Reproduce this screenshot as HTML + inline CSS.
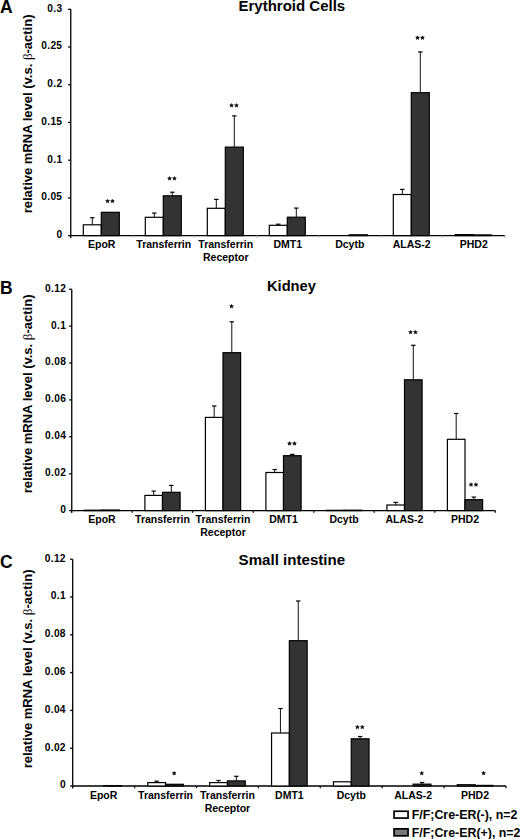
<!DOCTYPE html>
<html><head><meta charset="utf-8"><style>
html,body{margin:0;padding:0;background:#fff;width:520px;height:839px;overflow:hidden}
svg{display:block;font-family:"Liberation Sans", sans-serif;}
</style></head><body>
<svg width="520" height="839" viewBox="0 0 520 839">
<text x="0.00" y="12.60" font-size="17.5" text-anchor="start" font-weight="bold" >A</text>
<text x="291.85" y="11.00" font-size="15.0" text-anchor="middle" font-weight="bold" >Erythroid Cells</text>
<text transform="translate(31.8,113.90) rotate(-90)" x="0" y="0" font-size="13" text-anchor="middle" font-weight="bold">relative mRNA level (v.s. <tspan font-family="Liberation Serif" font-weight="normal">&#946;</tspan>-actin)</text>
<line x1="70.75" y1="9.3" x2="70.75" y2="238.0" stroke="#000" stroke-width="1.3"/>
<line x1="68.15" y1="235.60" x2="70.75" y2="235.60" stroke="#000" stroke-width="1.3"/>
<text x="62.35" y="238.00" font-size="10.2" text-anchor="end" font-weight="bold" letter-spacing="0.3">0</text>
<line x1="68.15" y1="197.88" x2="70.75" y2="197.88" stroke="#000" stroke-width="1.3"/>
<text x="62.35" y="200.28" font-size="10.2" text-anchor="end" font-weight="bold" letter-spacing="0.3">0.05</text>
<line x1="68.15" y1="160.17" x2="70.75" y2="160.17" stroke="#000" stroke-width="1.3"/>
<text x="62.35" y="162.57" font-size="10.2" text-anchor="end" font-weight="bold" letter-spacing="0.3">0.1</text>
<line x1="68.15" y1="122.45" x2="70.75" y2="122.45" stroke="#000" stroke-width="1.3"/>
<text x="62.35" y="124.85" font-size="10.2" text-anchor="end" font-weight="bold" letter-spacing="0.3">0.15</text>
<line x1="68.15" y1="84.73" x2="70.75" y2="84.73" stroke="#000" stroke-width="1.3"/>
<text x="62.35" y="87.13" font-size="10.2" text-anchor="end" font-weight="bold" letter-spacing="0.3">0.2</text>
<line x1="68.15" y1="47.02" x2="70.75" y2="47.02" stroke="#000" stroke-width="1.3"/>
<text x="62.35" y="49.42" font-size="10.2" text-anchor="end" font-weight="bold" letter-spacing="0.3">0.25</text>
<line x1="68.15" y1="9.30" x2="70.75" y2="9.30" stroke="#000" stroke-width="1.3"/>
<text x="62.35" y="11.70" font-size="10.2" text-anchor="end" font-weight="bold" letter-spacing="0.3">0.3</text>
<line x1="70.1" y1="235.6" x2="505.0" y2="235.6" stroke="#000" stroke-width="1.4"/>
<line x1="132.75" y1="235.6" x2="132.75" y2="237.4" stroke="#aaa" stroke-width="1.2"/>
<line x1="194.75" y1="235.6" x2="194.75" y2="237.4" stroke="#aaa" stroke-width="1.2"/>
<line x1="256.75" y1="235.6" x2="256.75" y2="237.4" stroke="#aaa" stroke-width="1.2"/>
<line x1="318.75" y1="235.6" x2="318.75" y2="237.4" stroke="#aaa" stroke-width="1.2"/>
<line x1="380.75" y1="235.6" x2="380.75" y2="237.4" stroke="#aaa" stroke-width="1.2"/>
<line x1="442.75" y1="235.6" x2="442.75" y2="237.4" stroke="#aaa" stroke-width="1.2"/>
<line x1="504.75" y1="235.6" x2="504.75" y2="237.4" stroke="#aaa" stroke-width="1.2"/>
<rect x="83.30" y="224.80" width="18.00" height="10.80" fill="#fff" stroke="#000" stroke-width="1.2"/>
<line x1="92.30" y1="224.80" x2="92.30" y2="217.70" stroke="#111" stroke-width="1.0"/>
<line x1="90.10" y1="217.70" x2="94.50" y2="217.70" stroke="#000" stroke-width="1.2"/>
<rect x="101.30" y="212.30" width="18.00" height="23.30" fill="#333" stroke="#000" stroke-width="1.2"/>
<polygon points="107.55,199.15 108.11,200.38 109.45,200.53 108.45,201.44 108.73,202.77 107.55,202.10 106.37,202.77 106.65,201.44 105.65,200.53 106.99,200.38" fill="#000" stroke="#000" stroke-width="0.5" stroke-linejoin="round"/>
<polygon points="112.45,199.15 113.01,200.38 114.35,200.53 113.35,201.44 113.63,202.77 112.45,202.10 111.27,202.77 111.55,201.44 110.55,200.53 111.89,200.38" fill="#000" stroke="#000" stroke-width="0.5" stroke-linejoin="round"/>
<text x="101.75" y="247.50" font-size="10.5" text-anchor="middle" font-weight="bold" >EpoR</text>
<rect x="145.30" y="217.30" width="18.00" height="18.30" fill="#fff" stroke="#000" stroke-width="1.2"/>
<line x1="154.30" y1="217.30" x2="154.30" y2="213.10" stroke="#111" stroke-width="1.0"/>
<line x1="152.10" y1="213.10" x2="156.50" y2="213.10" stroke="#000" stroke-width="1.2"/>
<rect x="163.30" y="195.80" width="18.00" height="39.80" fill="#333" stroke="#000" stroke-width="1.2"/>
<line x1="172.30" y1="195.80" x2="172.30" y2="192.20" stroke="#111" stroke-width="1.0"/>
<line x1="170.10" y1="192.20" x2="174.50" y2="192.20" stroke="#000" stroke-width="1.2"/>
<polygon points="169.55,176.45 170.11,177.68 171.45,177.83 170.45,178.74 170.73,180.07 169.55,179.40 168.37,180.07 168.65,178.74 167.65,177.83 168.99,177.68" fill="#000" stroke="#000" stroke-width="0.5" stroke-linejoin="round"/>
<polygon points="174.45,176.45 175.01,177.68 176.35,177.83 175.35,178.74 175.63,180.07 174.45,179.40 173.27,180.07 173.55,178.74 172.55,177.83 173.89,177.68" fill="#000" stroke="#000" stroke-width="0.5" stroke-linejoin="round"/>
<text x="163.75" y="247.50" font-size="10.5" text-anchor="middle" font-weight="bold" >Transferrin</text>
<rect x="207.30" y="208.30" width="18.00" height="27.30" fill="#fff" stroke="#000" stroke-width="1.2"/>
<line x1="216.30" y1="208.30" x2="216.30" y2="199.40" stroke="#111" stroke-width="1.0"/>
<line x1="214.10" y1="199.40" x2="218.50" y2="199.40" stroke="#000" stroke-width="1.2"/>
<rect x="225.30" y="147.10" width="18.00" height="88.50" fill="#333" stroke="#000" stroke-width="1.2"/>
<line x1="234.30" y1="147.10" x2="234.30" y2="115.90" stroke="#111" stroke-width="1.0"/>
<line x1="232.10" y1="115.90" x2="236.50" y2="115.90" stroke="#000" stroke-width="1.2"/>
<polygon points="231.55,103.45 232.11,104.68 233.45,104.83 232.45,105.74 232.73,107.07 231.55,106.40 230.37,107.07 230.65,105.74 229.65,104.83 230.99,104.68" fill="#000" stroke="#000" stroke-width="0.5" stroke-linejoin="round"/>
<polygon points="236.45,103.45 237.01,104.68 238.35,104.83 237.35,105.74 237.63,107.07 236.45,106.40 235.27,107.07 235.55,105.74 234.55,104.83 235.89,104.68" fill="#000" stroke="#000" stroke-width="0.5" stroke-linejoin="round"/>
<text x="225.75" y="247.50" font-size="10.5" text-anchor="middle" font-weight="bold" >Transferrin</text>
<text x="225.75" y="261.00" font-size="10.5" text-anchor="middle" font-weight="bold" >Receptor</text>
<rect x="269.30" y="225.30" width="18.00" height="10.30" fill="#fff" stroke="#000" stroke-width="1.2"/>
<line x1="278.30" y1="225.30" x2="278.30" y2="224.20" stroke="#111" stroke-width="1.0"/>
<line x1="276.10" y1="224.20" x2="280.50" y2="224.20" stroke="#000" stroke-width="1.2"/>
<rect x="287.30" y="217.20" width="18.00" height="18.40" fill="#333" stroke="#000" stroke-width="1.2"/>
<line x1="296.30" y1="217.20" x2="296.30" y2="208.10" stroke="#111" stroke-width="1.0"/>
<line x1="294.10" y1="208.10" x2="298.50" y2="208.10" stroke="#000" stroke-width="1.2"/>
<text x="287.75" y="247.50" font-size="10.5" text-anchor="middle" font-weight="bold" >DMT1</text>
<rect x="349.30" y="234.80" width="18.00" height="0.80" fill="#333" stroke="#000" stroke-width="1.2"/>
<text x="349.75" y="247.50" font-size="10.5" text-anchor="middle" font-weight="bold" >Dcytb</text>
<rect x="393.30" y="194.50" width="18.00" height="41.10" fill="#fff" stroke="#000" stroke-width="1.2"/>
<line x1="402.30" y1="194.50" x2="402.30" y2="189.40" stroke="#111" stroke-width="1.0"/>
<line x1="400.10" y1="189.40" x2="404.50" y2="189.40" stroke="#000" stroke-width="1.2"/>
<rect x="411.30" y="92.70" width="18.00" height="142.90" fill="#333" stroke="#000" stroke-width="1.2"/>
<line x1="420.30" y1="92.70" x2="420.30" y2="51.90" stroke="#111" stroke-width="1.0"/>
<line x1="418.10" y1="51.90" x2="422.50" y2="51.90" stroke="#000" stroke-width="1.2"/>
<polygon points="417.55,35.85 418.11,37.08 419.45,37.23 418.45,38.14 418.73,39.47 417.55,38.80 416.37,39.47 416.65,38.14 415.65,37.23 416.99,37.08" fill="#000" stroke="#000" stroke-width="0.5" stroke-linejoin="round"/>
<polygon points="422.45,35.85 423.01,37.08 424.35,37.23 423.35,38.14 423.63,39.47 422.45,38.80 421.27,39.47 421.55,38.14 420.55,37.23 421.89,37.08" fill="#000" stroke="#000" stroke-width="0.5" stroke-linejoin="round"/>
<text x="411.75" y="247.50" font-size="10.5" text-anchor="middle" font-weight="bold" >ALAS-2</text>
<rect x="455.30" y="234.60" width="18.00" height="1.00" fill="#fff" stroke="#000" stroke-width="1.2"/>
<rect x="473.30" y="234.90" width="18.00" height="0.70" fill="#333" stroke="#000" stroke-width="1.2"/>
<text x="473.75" y="247.50" font-size="10.5" text-anchor="middle" font-weight="bold" >PHD2</text>
<text x="0.00" y="293.60" font-size="17.5" text-anchor="start" font-weight="bold" >B</text>
<text x="291.45" y="291.20" font-size="14.7" text-anchor="middle" font-weight="bold" >Kidney</text>
<text transform="translate(31.8,393.95) rotate(-90)" x="0" y="0" font-size="13" text-anchor="middle" font-weight="bold">relative mRNA level (v.s. <tspan font-family="Liberation Serif" font-weight="normal">&#946;</tspan>-actin)</text>
<line x1="71.75" y1="289.2" x2="71.75" y2="513.0" stroke="#000" stroke-width="1.3"/>
<line x1="69.15" y1="510.60" x2="71.75" y2="510.60" stroke="#000" stroke-width="1.3"/>
<text x="66.15" y="513.00" font-size="10.2" text-anchor="end" font-weight="bold" letter-spacing="0.3">0</text>
<line x1="69.15" y1="473.70" x2="71.75" y2="473.70" stroke="#000" stroke-width="1.3"/>
<text x="66.15" y="476.10" font-size="10.2" text-anchor="end" font-weight="bold" letter-spacing="0.3">0.02</text>
<line x1="69.15" y1="436.80" x2="71.75" y2="436.80" stroke="#000" stroke-width="1.3"/>
<text x="66.15" y="439.20" font-size="10.2" text-anchor="end" font-weight="bold" letter-spacing="0.3">0.04</text>
<line x1="69.15" y1="399.90" x2="71.75" y2="399.90" stroke="#000" stroke-width="1.3"/>
<text x="66.15" y="402.30" font-size="10.2" text-anchor="end" font-weight="bold" letter-spacing="0.3">0.06</text>
<line x1="69.15" y1="363.00" x2="71.75" y2="363.00" stroke="#000" stroke-width="1.3"/>
<text x="66.15" y="365.40" font-size="10.2" text-anchor="end" font-weight="bold" letter-spacing="0.3">0.08</text>
<line x1="69.15" y1="326.10" x2="71.75" y2="326.10" stroke="#000" stroke-width="1.3"/>
<text x="66.15" y="328.50" font-size="10.2" text-anchor="end" font-weight="bold" letter-spacing="0.3">0.1</text>
<line x1="69.15" y1="289.20" x2="71.75" y2="289.20" stroke="#000" stroke-width="1.3"/>
<text x="66.15" y="291.60" font-size="10.2" text-anchor="end" font-weight="bold" letter-spacing="0.3">0.12</text>
<line x1="71.1" y1="510.6" x2="495.4" y2="510.6" stroke="#000" stroke-width="1.4"/>
<line x1="132.25" y1="510.6" x2="132.25" y2="512.8000000000001" stroke="#000" stroke-width="1.2"/>
<line x1="192.75" y1="510.6" x2="192.75" y2="512.8000000000001" stroke="#000" stroke-width="1.2"/>
<line x1="253.25" y1="510.6" x2="253.25" y2="512.8000000000001" stroke="#000" stroke-width="1.2"/>
<line x1="313.75" y1="510.6" x2="313.75" y2="512.8000000000001" stroke="#000" stroke-width="1.2"/>
<line x1="374.25" y1="510.6" x2="374.25" y2="512.8000000000001" stroke="#000" stroke-width="1.2"/>
<line x1="434.75" y1="510.6" x2="434.75" y2="512.8000000000001" stroke="#000" stroke-width="1.2"/>
<line x1="495.25" y1="510.6" x2="495.25" y2="512.8000000000001" stroke="#000" stroke-width="1.2"/>
<rect x="84.40" y="510.20" width="17.60" height="0.40" fill="#fff" stroke="#000" stroke-width="1.2"/>
<rect x="102.00" y="510.00" width="17.60" height="0.60" fill="#333" stroke="#000" stroke-width="1.2"/>
<text x="102.00" y="522.50" font-size="10.5" text-anchor="middle" font-weight="bold" >EpoR</text>
<rect x="144.90" y="495.40" width="17.60" height="15.20" fill="#fff" stroke="#000" stroke-width="1.2"/>
<line x1="153.70" y1="495.40" x2="153.70" y2="491.10" stroke="#111" stroke-width="1.0"/>
<line x1="151.50" y1="491.10" x2="155.90" y2="491.10" stroke="#000" stroke-width="1.2"/>
<rect x="162.50" y="492.30" width="17.60" height="18.30" fill="#333" stroke="#000" stroke-width="1.2"/>
<line x1="171.30" y1="492.30" x2="171.30" y2="485.40" stroke="#111" stroke-width="1.0"/>
<line x1="169.10" y1="485.40" x2="173.50" y2="485.40" stroke="#000" stroke-width="1.2"/>
<text x="162.50" y="522.50" font-size="10.5" text-anchor="middle" font-weight="bold" >Transferrin</text>
<rect x="205.40" y="417.40" width="17.60" height="93.20" fill="#fff" stroke="#000" stroke-width="1.2"/>
<line x1="214.20" y1="417.40" x2="214.20" y2="406.00" stroke="#111" stroke-width="1.0"/>
<line x1="212.00" y1="406.00" x2="216.40" y2="406.00" stroke="#000" stroke-width="1.2"/>
<rect x="223.00" y="352.70" width="17.60" height="157.90" fill="#333" stroke="#000" stroke-width="1.2"/>
<line x1="231.80" y1="352.70" x2="231.80" y2="321.80" stroke="#111" stroke-width="1.0"/>
<line x1="229.60" y1="321.80" x2="234.00" y2="321.80" stroke="#000" stroke-width="1.2"/>
<polygon points="231.50,304.35 232.06,305.58 233.40,305.73 232.40,306.64 232.68,307.97 231.50,307.30 230.32,307.97 230.60,306.64 229.60,305.73 230.94,305.58" fill="#000" stroke="#000" stroke-width="0.5" stroke-linejoin="round"/>
<text x="223.00" y="522.50" font-size="10.5" text-anchor="middle" font-weight="bold" >Transferrin</text>
<text x="223.00" y="536.00" font-size="10.5" text-anchor="middle" font-weight="bold" >Receptor</text>
<rect x="265.90" y="472.50" width="17.60" height="38.10" fill="#fff" stroke="#000" stroke-width="1.2"/>
<line x1="274.70" y1="472.50" x2="274.70" y2="469.50" stroke="#111" stroke-width="1.0"/>
<line x1="272.50" y1="469.50" x2="276.90" y2="469.50" stroke="#000" stroke-width="1.2"/>
<rect x="283.50" y="455.70" width="17.60" height="54.90" fill="#333" stroke="#000" stroke-width="1.2"/>
<line x1="292.30" y1="455.70" x2="292.30" y2="454.40" stroke="#111" stroke-width="1.0"/>
<line x1="290.10" y1="454.40" x2="294.50" y2="454.40" stroke="#000" stroke-width="1.2"/>
<polygon points="289.55,441.55 290.11,442.78 291.45,442.93 290.45,443.84 290.73,445.17 289.55,444.50 288.37,445.17 288.65,443.84 287.65,442.93 288.99,442.78" fill="#000" stroke="#000" stroke-width="0.5" stroke-linejoin="round"/>
<polygon points="294.45,441.55 295.01,442.78 296.35,442.93 295.35,443.84 295.63,445.17 294.45,444.50 293.27,445.17 293.55,443.84 292.55,442.93 293.89,442.78" fill="#000" stroke="#000" stroke-width="0.5" stroke-linejoin="round"/>
<text x="283.50" y="522.50" font-size="10.5" text-anchor="middle" font-weight="bold" >DMT1</text>
<rect x="326.40" y="510.30" width="17.60" height="0.30" fill="#fff" stroke="#000" stroke-width="1.2"/>
<rect x="344.00" y="510.20" width="17.60" height="0.40" fill="#333" stroke="#000" stroke-width="1.2"/>
<text x="344.00" y="522.50" font-size="10.5" text-anchor="middle" font-weight="bold" >Dcytb</text>
<rect x="386.90" y="505.00" width="17.60" height="5.60" fill="#fff" stroke="#000" stroke-width="1.2"/>
<line x1="395.70" y1="505.00" x2="395.70" y2="502.40" stroke="#111" stroke-width="1.0"/>
<line x1="393.50" y1="502.40" x2="397.90" y2="502.40" stroke="#000" stroke-width="1.2"/>
<rect x="404.50" y="379.80" width="17.60" height="130.80" fill="#333" stroke="#000" stroke-width="1.2"/>
<line x1="413.30" y1="379.80" x2="413.30" y2="345.30" stroke="#111" stroke-width="1.0"/>
<line x1="411.10" y1="345.30" x2="415.50" y2="345.30" stroke="#000" stroke-width="1.2"/>
<polygon points="410.55,330.25 411.11,331.48 412.45,331.63 411.45,332.54 411.73,333.87 410.55,333.20 409.37,333.87 409.65,332.54 408.65,331.63 409.99,331.48" fill="#000" stroke="#000" stroke-width="0.5" stroke-linejoin="round"/>
<polygon points="415.45,330.25 416.01,331.48 417.35,331.63 416.35,332.54 416.63,333.87 415.45,333.20 414.27,333.87 414.55,332.54 413.55,331.63 414.89,331.48" fill="#000" stroke="#000" stroke-width="0.5" stroke-linejoin="round"/>
<text x="404.50" y="522.50" font-size="10.5" text-anchor="middle" font-weight="bold" >ALAS-2</text>
<rect x="447.40" y="439.30" width="17.60" height="71.30" fill="#fff" stroke="#000" stroke-width="1.2"/>
<line x1="456.20" y1="439.30" x2="456.20" y2="413.50" stroke="#111" stroke-width="1.0"/>
<line x1="454.00" y1="413.50" x2="458.40" y2="413.50" stroke="#000" stroke-width="1.2"/>
<rect x="465.00" y="499.70" width="17.60" height="10.90" fill="#333" stroke="#000" stroke-width="1.2"/>
<line x1="473.80" y1="499.70" x2="473.80" y2="497.10" stroke="#111" stroke-width="1.0"/>
<line x1="471.60" y1="497.10" x2="476.00" y2="497.10" stroke="#000" stroke-width="1.2"/>
<polygon points="471.05,482.65 471.61,483.88 472.95,484.03 471.95,484.94 472.23,486.27 471.05,485.60 469.87,486.27 470.15,484.94 469.15,484.03 470.49,483.88" fill="#000" stroke="#000" stroke-width="0.5" stroke-linejoin="round"/>
<polygon points="475.95,482.65 476.51,483.88 477.85,484.03 476.85,484.94 477.13,486.27 475.95,485.60 474.77,486.27 475.05,484.94 474.05,484.03 475.39,483.88" fill="#000" stroke="#000" stroke-width="0.5" stroke-linejoin="round"/>
<text x="465.00" y="522.50" font-size="10.5" text-anchor="middle" font-weight="bold" >PHD2</text>
<text x="0.00" y="567.80" font-size="17.5" text-anchor="start" font-weight="bold" >C</text>
<text x="291.85" y="564.80" font-size="15.1" text-anchor="middle" font-weight="bold" >Small intestine</text>
<text transform="translate(31.8,668.95) rotate(-90)" x="0" y="0" font-size="13" text-anchor="middle" font-weight="bold">relative mRNA level (v.s. <tspan font-family="Liberation Serif" font-weight="normal">&#946;</tspan>-actin)</text>
<line x1="72.7" y1="559.2" x2="72.7" y2="788.4" stroke="#000" stroke-width="1.3"/>
<line x1="70.10000000000001" y1="786.00" x2="72.7" y2="786.00" stroke="#000" stroke-width="1.3"/>
<text x="65.85" y="788.40" font-size="10.2" text-anchor="end" font-weight="bold" letter-spacing="0.3">0</text>
<line x1="70.10000000000001" y1="748.20" x2="72.7" y2="748.20" stroke="#000" stroke-width="1.3"/>
<text x="65.85" y="750.60" font-size="10.2" text-anchor="end" font-weight="bold" letter-spacing="0.3">0.02</text>
<line x1="70.10000000000001" y1="710.40" x2="72.7" y2="710.40" stroke="#000" stroke-width="1.3"/>
<text x="65.85" y="712.80" font-size="10.2" text-anchor="end" font-weight="bold" letter-spacing="0.3">0.04</text>
<line x1="70.10000000000001" y1="672.60" x2="72.7" y2="672.60" stroke="#000" stroke-width="1.3"/>
<text x="65.85" y="675.00" font-size="10.2" text-anchor="end" font-weight="bold" letter-spacing="0.3">0.06</text>
<line x1="70.10000000000001" y1="634.80" x2="72.7" y2="634.80" stroke="#000" stroke-width="1.3"/>
<text x="65.85" y="637.20" font-size="10.2" text-anchor="end" font-weight="bold" letter-spacing="0.3">0.08</text>
<line x1="70.10000000000001" y1="597.00" x2="72.7" y2="597.00" stroke="#000" stroke-width="1.3"/>
<text x="65.85" y="599.40" font-size="10.2" text-anchor="end" font-weight="bold" letter-spacing="0.3">0.1</text>
<line x1="70.10000000000001" y1="559.20" x2="72.7" y2="559.20" stroke="#000" stroke-width="1.3"/>
<text x="65.85" y="561.60" font-size="10.2" text-anchor="end" font-weight="bold" letter-spacing="0.3">0.12</text>
<line x1="72.05" y1="786.0" x2="506.0" y2="786.0" stroke="#000" stroke-width="1.4"/>
<line x1="134.60" y1="786.0" x2="134.60" y2="788.2" stroke="#000" stroke-width="1.2"/>
<line x1="196.50" y1="786.0" x2="196.50" y2="788.2" stroke="#000" stroke-width="1.2"/>
<line x1="258.40" y1="786.0" x2="258.40" y2="788.2" stroke="#000" stroke-width="1.2"/>
<line x1="320.30" y1="786.0" x2="320.30" y2="788.2" stroke="#000" stroke-width="1.2"/>
<line x1="382.20" y1="786.0" x2="382.20" y2="788.2" stroke="#000" stroke-width="1.2"/>
<line x1="444.10" y1="786.0" x2="444.10" y2="788.2" stroke="#000" stroke-width="1.2"/>
<line x1="506.00" y1="786.0" x2="506.00" y2="788.2" stroke="#000" stroke-width="1.2"/>
<rect x="103.65" y="785.60" width="17.80" height="0.40" fill="#333" stroke="#000" stroke-width="1.2"/>
<text x="103.65" y="798.80" font-size="10.5" text-anchor="middle" font-weight="bold" >EpoR</text>
<rect x="147.75" y="782.60" width="17.80" height="3.40" fill="#fff" stroke="#000" stroke-width="1.2"/>
<line x1="156.65" y1="782.60" x2="156.65" y2="781.20" stroke="#111" stroke-width="1.0"/>
<line x1="154.45" y1="781.20" x2="158.85" y2="781.20" stroke="#000" stroke-width="1.2"/>
<rect x="165.55" y="784.30" width="17.80" height="1.70" fill="#333" stroke="#000" stroke-width="1.2"/>
<polygon points="174.15,771.35 174.71,772.58 176.05,772.73 175.05,773.64 175.33,774.97 174.15,774.30 172.97,774.97 173.25,773.64 172.25,772.73 173.59,772.58" fill="#000" stroke="#000" stroke-width="0.5" stroke-linejoin="round"/>
<text x="165.55" y="798.80" font-size="10.5" text-anchor="middle" font-weight="bold" >Transferrin</text>
<rect x="209.65" y="782.60" width="17.80" height="3.40" fill="#fff" stroke="#000" stroke-width="1.2"/>
<line x1="218.55" y1="782.60" x2="218.55" y2="780.50" stroke="#111" stroke-width="1.0"/>
<line x1="216.35" y1="780.50" x2="220.75" y2="780.50" stroke="#000" stroke-width="1.2"/>
<rect x="227.45" y="780.90" width="17.80" height="5.10" fill="#333" stroke="#000" stroke-width="1.2"/>
<line x1="236.35" y1="780.90" x2="236.35" y2="776.30" stroke="#111" stroke-width="1.0"/>
<line x1="234.15" y1="776.30" x2="238.55" y2="776.30" stroke="#000" stroke-width="1.2"/>
<text x="227.45" y="798.80" font-size="10.5" text-anchor="middle" font-weight="bold" >Transferrin</text>
<text x="227.45" y="812.30" font-size="10.5" text-anchor="middle" font-weight="bold" >Receptor</text>
<rect x="271.55" y="733.00" width="17.80" height="53.00" fill="#fff" stroke="#000" stroke-width="1.2"/>
<line x1="280.45" y1="733.00" x2="280.45" y2="708.50" stroke="#111" stroke-width="1.0"/>
<line x1="278.25" y1="708.50" x2="282.65" y2="708.50" stroke="#000" stroke-width="1.2"/>
<rect x="289.35" y="640.70" width="17.80" height="145.30" fill="#333" stroke="#000" stroke-width="1.2"/>
<line x1="298.25" y1="640.70" x2="298.25" y2="601.00" stroke="#111" stroke-width="1.0"/>
<line x1="296.05" y1="601.00" x2="300.45" y2="601.00" stroke="#000" stroke-width="1.2"/>
<text x="289.35" y="798.80" font-size="10.5" text-anchor="middle" font-weight="bold" >DMT1</text>
<rect x="333.45" y="781.80" width="17.80" height="4.20" fill="#fff" stroke="#000" stroke-width="1.2"/>
<rect x="351.25" y="738.80" width="17.80" height="47.20" fill="#333" stroke="#000" stroke-width="1.2"/>
<line x1="360.15" y1="738.80" x2="360.15" y2="736.50" stroke="#111" stroke-width="1.0"/>
<line x1="357.95" y1="736.50" x2="362.35" y2="736.50" stroke="#000" stroke-width="1.2"/>
<polygon points="357.40,725.15 357.96,726.38 359.30,726.53 358.30,727.44 358.58,728.77 357.40,728.10 356.22,728.77 356.50,727.44 355.50,726.53 356.84,726.38" fill="#000" stroke="#000" stroke-width="0.5" stroke-linejoin="round"/>
<polygon points="362.30,725.15 362.86,726.38 364.20,726.53 363.20,727.44 363.48,728.77 362.30,728.10 361.12,728.77 361.40,727.44 360.40,726.53 361.74,726.38" fill="#000" stroke="#000" stroke-width="0.5" stroke-linejoin="round"/>
<text x="351.25" y="798.80" font-size="10.5" text-anchor="middle" font-weight="bold" >Dcytb</text>
<rect x="413.15" y="784.15" width="17.80" height="1.85" fill="#333" stroke="#000" stroke-width="1.2"/>
<line x1="422.05" y1="784.15" x2="422.05" y2="782.50" stroke="#111" stroke-width="1.0"/>
<line x1="419.85" y1="782.50" x2="424.25" y2="782.50" stroke="#000" stroke-width="1.2"/>
<polygon points="421.75,771.25 422.31,772.48 423.65,772.63 422.65,773.54 422.93,774.87 421.75,774.20 420.57,774.87 420.85,773.54 419.85,772.63 421.19,772.48" fill="#000" stroke="#000" stroke-width="0.5" stroke-linejoin="round"/>
<text x="413.15" y="798.80" font-size="10.5" text-anchor="middle" font-weight="bold" >ALAS-2</text>
<rect x="457.25" y="784.70" width="17.80" height="1.30" fill="#fff" stroke="#000" stroke-width="1.2"/>
<rect x="475.05" y="785.40" width="17.80" height="0.60" fill="#333" stroke="#000" stroke-width="1.2"/>
<polygon points="483.65,771.25 484.21,772.48 485.55,772.63 484.55,773.54 484.83,774.87 483.65,774.20 482.47,774.87 482.75,773.54 481.75,772.63 483.09,772.48" fill="#000" stroke="#000" stroke-width="0.5" stroke-linejoin="round"/>
<text x="475.05" y="798.80" font-size="10.5" text-anchor="middle" font-weight="bold" >PHD2</text>
<rect x="394.05" y="811.25" width="14.0" height="6.8" fill="#fff" stroke="#000" stroke-width="1.7"/>
<rect x="394.05" y="828.85" width="14.0" height="7.0" fill="#777" stroke="#000" stroke-width="1.7"/>
<text x="411.70" y="818.80" font-size="12.4" text-anchor="start" font-weight="bold" >F/F;Cre-ER(-), n=2</text>
<text x="411.70" y="836.80" font-size="12.4" text-anchor="start" font-weight="bold" >F/F;Cre-ER(+), n=2</text>
</svg>
</body></html>
